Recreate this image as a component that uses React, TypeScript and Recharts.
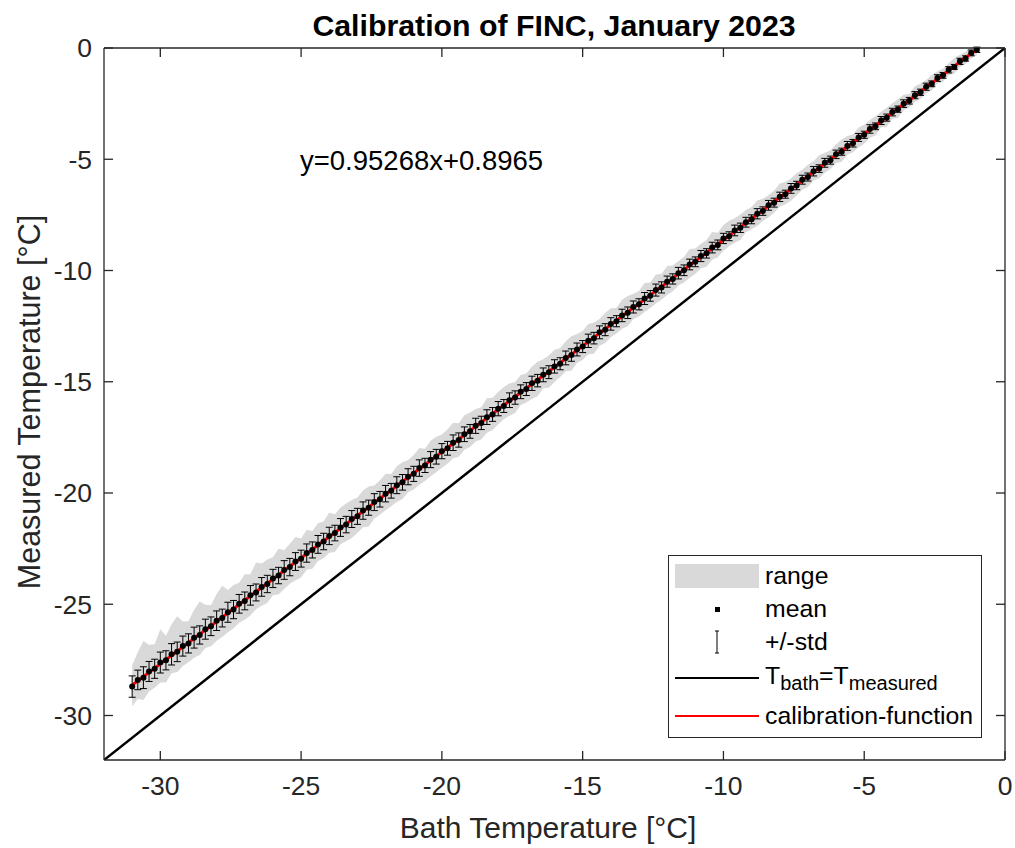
import { ComposedChart, Area, Line, ErrorBar, XAxis, YAxis } from 'recharts'

const FONT = '"Liberation Sans", Arial, sans-serif'
const AXIS = '#262626'

// bath set points, °C
const bathTemps = [
  -31.0, -30.8, -30.6, -30.4, -30.2, -30.0, -29.8, -29.6, -29.4, -29.2,
  -29.0, -28.8, -28.6, -28.4, -28.2, -28.0, -27.8, -27.6, -27.4, -27.2,
  -27.0, -26.8, -26.6, -26.4, -26.2, -26.0, -25.8, -25.6, -25.4, -25.2,
  -25.0, -24.8, -24.6, -24.4, -24.2, -24.0, -23.8, -23.6, -23.4, -23.2,
  -23.0, -22.8, -22.6, -22.4, -22.2, -22.0, -21.8, -21.6, -21.4, -21.2,
  -21.0, -20.8, -20.6, -20.4, -20.2, -20.0, -19.8, -19.6, -19.4, -19.2,
  -19.0, -18.8, -18.6, -18.4, -18.2, -18.0, -17.8, -17.6, -17.4, -17.2,
  -17.0, -16.8, -16.6, -16.4, -16.2, -16.0, -15.8, -15.6, -15.4, -15.2,
  -15.0, -14.8, -14.6, -14.4, -14.2, -14.0, -13.8, -13.6, -13.4, -13.2,
  -13.0, -12.8, -12.6, -12.4, -12.2, -12.0, -11.8, -11.6, -11.4, -11.2,
  -11.0, -10.8, -10.6, -10.4, -10.2, -10.0, -9.8, -9.6, -9.4, -9.2,
  -9.0, -8.8, -8.6, -8.4, -8.2, -8.0, -7.8, -7.6, -7.4, -7.2,
  -7.0, -6.8, -6.6, -6.4, -6.2, -6.0, -5.8, -5.6, -5.4, -5.2,
  -5.0, -4.8, -4.6, -4.4, -4.2, -4.0, -3.8, -3.6, -3.4, -3.2,
  -3.0, -2.8, -2.6, -2.4, -2.2, -2.0, -1.8, -1.6, -1.4, -1.2,
  -1.0,
]

// mean measured temperature per set point, °C
const meanTemps = [
  -28.70, -28.40, -28.30, -28.02, -27.90, -27.62, -27.52, -27.25, -27.14, -26.88,
  -26.76, -26.50, -26.38, -26.12, -25.99, -25.74, -25.62, -25.36, -25.24, -24.98,
  -24.85, -24.60, -24.47, -24.22, -24.09, -23.84, -23.71, -23.46, -23.33, -23.08,
  -22.95, -22.70, -22.56, -22.31, -22.18, -21.93, -21.80, -21.55, -21.42, -21.17,
  -21.05, -20.79, -20.66, -20.41, -20.28, -20.03, -19.90, -19.65, -19.52, -19.27,
  -19.14, -18.88, -18.76, -18.50, -18.37, -18.12, -17.99, -17.74, -17.62, -17.36,
  -17.23, -16.98, -16.85, -16.59, -16.47, -16.21, -16.09, -15.83, -15.71, -15.45,
  -15.33, -15.07, -14.95, -14.69, -14.57, -14.31, -14.19, -13.93, -13.80, -13.55,
  -13.42, -13.16, -13.04, -12.78, -12.66, -12.40, -12.28, -12.02, -11.90, -11.64,
  -11.52, -11.26, -11.14, -10.88, -10.76, -10.50, -10.38, -10.12, -9.99, -9.73,
  -9.61, -9.35, -9.23, -8.97, -8.85, -8.56, -8.46, -8.20, -8.08, -7.83,
  -7.70, -7.45, -7.33, -7.07, -6.95, -6.69, -6.57, -6.31, -6.18, -5.92,
  -5.80, -5.54, -5.42, -5.16, -5.04, -4.78, -4.66, -4.40, -4.28, -4.02,
  -3.90, -3.64, -3.52, -3.26, -3.13, -2.88, -2.75, -2.50, -2.37, -2.12,
  -1.99, -1.74, -1.61, -1.35, -1.23, -0.98, -0.85, -0.60, -0.47, -0.22,
  -0.08,
]

// standard deviation per set point, °C
const stdTemps = [
  0.48, 0.44, 0.49, 0.45, 0.43, 0.47, 0.43, 0.48, 0.44, 0.45,
  0.43, 0.47, 0.41, 0.45, 0.42, 0.44, 0.40, 0.45, 0.41, 0.42,
  0.40, 0.44, 0.38, 0.42, 0.39, 0.41, 0.37, 0.42, 0.39, 0.40,
  0.38, 0.41, 0.36, 0.40, 0.37, 0.39, 0.35, 0.40, 0.37, 0.38,
  0.36, 0.39, 0.34, 0.38, 0.35, 0.37, 0.33, 0.38, 0.35, 0.36,
  0.34, 0.37, 0.32, 0.36, 0.33, 0.34, 0.31, 0.35, 0.32, 0.33,
  0.31, 0.34, 0.30, 0.33, 0.31, 0.32, 0.29, 0.33, 0.30, 0.31,
  0.29, 0.32, 0.28, 0.31, 0.29, 0.30, 0.27, 0.31, 0.28, 0.29,
  0.27, 0.30, 0.26, 0.29, 0.27, 0.28, 0.25, 0.28, 0.26, 0.27,
  0.25, 0.27, 0.24, 0.27, 0.25, 0.25, 0.23, 0.26, 0.24, 0.24,
  0.22, 0.25, 0.21, 0.24, 0.22, 0.23, 0.20, 0.24, 0.21, 0.22,
  0.20, 0.23, 0.19, 0.22, 0.20, 0.21, 0.18, 0.22, 0.19, 0.20,
  0.18, 0.21, 0.17, 0.20, 0.18, 0.19, 0.16, 0.20, 0.17, 0.18,
  0.16, 0.19, 0.15, 0.18, 0.16, 0.17, 0.14, 0.17, 0.15, 0.16,
  0.14, 0.16, 0.13, 0.15, 0.13, 0.14, 0.11, 0.14, 0.12, 0.13,
  0.12,
]

// max - mean per set point, °C
const rangeAbove = [
  0.95, 1.25, 1.65, 1.20, 1.10, 1.50, 1.10, 1.35, 1.60, 1.10,
  1.00, 1.25, 1.50, 1.10, 0.95, 1.20, 1.45, 1.00, 1.10, 0.95,
  1.20, 0.95, 1.35, 1.05, 1.10, 0.95, 1.20, 0.90, 1.05, 1.10,
  0.90, 1.05, 0.85, 0.95, 0.90, 1.05, 0.85, 0.90, 0.95, 0.85,
  0.85, 0.90, 0.95, 0.75, 0.85, 0.90, 0.75, 0.85, 0.90, 0.75,
  0.85, 0.90, 0.75, 0.85, 0.90, 0.75, 0.85, 0.90, 0.75, 0.85,
  0.85, 0.75, 0.70, 0.85, 0.75, 0.75, 0.85, 0.75, 0.70, 0.75,
  0.70, 0.75, 0.85, 0.70, 0.75, 0.75, 0.70, 0.75, 0.85, 0.70,
  0.70, 0.75, 0.70, 0.60, 0.75, 0.70, 0.60, 0.70, 0.75, 0.60,
  0.60, 0.70, 0.60, 0.70, 0.60, 0.70, 0.60, 0.55, 0.60, 0.70,
  0.60, 0.55, 0.60, 0.70, 0.55, 0.60, 0.70, 0.55, 0.60, 0.55,
  0.55, 0.60, 0.55, 0.45, 0.55, 0.60, 0.55, 0.45, 0.55, 0.45,
  0.55, 0.45, 0.60, 0.45, 0.45, 0.45, 0.55, 0.45, 0.40, 0.45,
  0.45, 0.40, 0.45, 0.40, 0.45, 0.40, 0.45, 0.40, 0.30, 0.40,
  0.40, 0.30, 0.40, 0.30, 0.30, 0.30, 0.40, 0.30, 0.30, 0.25,
  0.25,
]

// mean - min per set point, °C
const rangeBelow = [
  0.90, 0.85, 1.00, 0.90, 0.85, 0.90, 1.00, 0.85, 0.90, 0.90,
  0.85, 0.90, 0.90, 0.85, 0.90, 0.90, 0.85, 0.90, 0.85, 0.85,
  0.85, 0.90, 0.75, 0.85, 0.85, 0.75, 0.85, 0.85, 0.75, 0.85,
  0.85, 0.75, 0.85, 0.75, 0.75, 0.75, 0.85, 0.75, 0.75, 0.85,
  0.75, 0.75, 0.85, 0.75, 0.70, 0.75, 0.70, 0.75, 0.75, 0.70,
  0.70, 0.75, 0.70, 0.75, 0.70, 0.75, 0.70, 0.70, 0.75, 0.70,
  0.70, 0.70, 0.75, 0.70, 0.70, 0.70, 0.60, 0.70, 0.70, 0.60,
  0.60, 0.70, 0.70, 0.60, 0.70, 0.70, 0.60, 0.60, 0.70, 0.60,
  0.60, 0.60, 0.70, 0.60, 0.60, 0.60, 0.55, 0.60, 0.60, 0.55,
  0.55, 0.60, 0.55, 0.60, 0.55, 0.60, 0.55, 0.55, 0.55, 0.60,
  0.55, 0.55, 0.60, 0.55, 0.55, 0.55, 0.45, 0.55, 0.55, 0.45,
  0.45, 0.55, 0.45, 0.55, 0.45, 0.45, 0.45, 0.55, 0.45, 0.45,
  0.45, 0.40, 0.45, 0.45, 0.40, 0.40, 0.45, 0.40, 0.40, 0.45,
  0.40, 0.40, 0.40, 0.30, 0.40, 0.30, 0.40, 0.30, 0.30, 0.30,
  0.30, 0.30, 0.30, 0.25, 0.30, 0.25, 0.30, 0.25, 0.25, 0.25,
  0.25,
]

const axisTicks = [-30, -25, -20, -15, -10, -5, 0]

// linear fit of mean vs. bath temperature
const fitSlope = 0.95268
const fitOffset = 0.8965
const fitSpan = [-31, -1]

const rows = bathTemps.map((bath, i) => ({
  bath,
  mean: meanTemps[i],
  std: stdTemps[i],
  range: [meanTemps[i] - rangeBelow[i], meanTemps[i] + rangeAbove[i]],
}))

const identityLine = [{ bath: -32, y: -32 }, { bath: 0, y: 0 }]
const fitLine = fitSpan.map((b) => ({ bath: b, y: fitSlope * b + fitOffset }))

const tickStyle = { fill: AXIS, fontSize: 26.5, fontFamily: FONT }

function Legend() {
  const row = { position: 'absolute' as const, left: 0, width: 314, height: 36, display: 'flex', alignItems: 'center' }
  const icon = { width: 96, display: 'flex', justifyContent: 'center', alignItems: 'center' }
  return (
    <div style={{ position: 'absolute', left: 668, top: 555, width: 314, height: 183, boxSizing: 'border-box',
      border: `1px solid ${AXIS}`, background: '#fff', fontFamily: FONT, fontSize: 24.8, color: '#000' }}>
      <div style={{ ...row, top: 2 }}>
        <div style={icon}><div style={{ width: 84, height: 24, background: '#d9d9d9' }} /></div>
        <span>range</span>
      </div>
      <div style={{ ...row, top: 35 }}>
        <div style={icon}><div style={{ width: 5, height: 5, background: '#000' }} /></div>
        <span>mean</span>
      </div>
      <div style={{ ...row, top: 68 }}>
        <div style={icon}>
          <svg width={8} height={24}>
            <line x1={4} y1={1} x2={4} y2={23} stroke="#000" />
            <line x1={2} y1={1} x2={6} y2={1} stroke="#000" />
            <line x1={2} y1={23} x2={6} y2={23} stroke="#000" />
          </svg>
        </div>
        <span>+/-std</span>
      </div>
      <div style={{ ...row, top: 104 }}>
        <div style={icon}><div style={{ width: 84, height: 2.5, background: '#000' }} /></div>
        <span>T<sub style={{ fontSize: 20 }}>bath</sub>=T<sub style={{ fontSize: 20 }}>measured</sub></span>
      </div>
      <div style={{ ...row, top: 142 }}>
        <div style={icon}><div style={{ width: 84, height: 2.5, background: '#ff0000' }} /></div>
        <span>calibration-function</span>
      </div>
    </div>
  )
}

export default function App() {
  return (
    <div style={{ position: 'absolute', left: 0, top: 0, width: 1015, height: 848, background: '#fff', fontFamily: FONT }}>
      <ComposedChart width={1015} height={848} data={rows} margin={{ top: 48, right: 10, bottom: 38, left: 44 }}>
        <XAxis dataKey="bath" type="number" domain={[-32, 0]} ticks={axisTicks} allowDataOverflow
          height={50} stroke={AXIS} strokeWidth={1.3} tickSize={-9} tickMargin={25} tick={tickStyle} />
        <XAxis xAxisId="top" dataKey="bath" type="number" orientation="top" domain={[-32, 0]} ticks={axisTicks}
          allowDataOverflow height={1} mirror stroke={AXIS} strokeWidth={1.3} tickSize={9} tickFormatter={() => ''} />
        <YAxis type="number" domain={[-32, 0]} ticks={axisTicks} allowDataOverflow width={60}
          stroke={AXIS} strokeWidth={1.3} tickSize={-9} tickMargin={21} tick={tickStyle} />
        <YAxis yAxisId="right" type="number" orientation="right" domain={[-32, 0]} ticks={axisTicks}
          allowDataOverflow width={1} mirror stroke={AXIS} strokeWidth={1.3} tickSize={9} tickFormatter={() => ''} />
        <Area dataKey="range" type="linear" stroke="none" fill="#d9d9d9" fillOpacity={1} isAnimationActive={false} />
        <Line data={identityLine} xAxisId="top" yAxisId="right" dataKey="y" stroke="#000" strokeWidth={2.5}
          dot={false} activeDot={false} isAnimationActive={false} />
        <Line dataKey="mean" stroke="none" dot={{ r: 3, fill: '#000', stroke: 'none' }}
          activeDot={false} isAnimationActive={false}>
          <ErrorBar dataKey="std" direction="y" width={3.5} stroke="#000" strokeWidth={1} />
        </Line>
        <Line data={fitLine} dataKey="y" stroke="#ff0000" strokeWidth={3} dot={false} activeDot={false}
          isAnimationActive={false} />
      </ComposedChart>

      <div style={{ position: 'absolute', left: 104, width: 900, top: 9, textAlign: 'center',
        fontSize: 30.3, fontWeight: 'bold', color: '#000' }}>
        Calibration of FINC, January 2023
      </div>
      <div style={{ position: 'absolute', left: 300, top: 145, fontSize: 27.5, color: '#000' }}>
        y=0.95268x+0.8965
      </div>
      <div style={{ position: 'absolute', left: 98, width: 900, top: 811, textAlign: 'center',
        fontSize: 30, color: AXIS }}>
        Bath Temperature [°C]
      </div>
      <div style={{ position: 'absolute', left: 29, top: 402, width: 0, height: 0 }}>
        <div style={{ position: 'absolute', left: 0, top: 0, transform: 'translate(-50%, -50%) rotate(-90deg)',
          whiteSpace: 'nowrap', fontSize: 30.5, color: AXIS }}>
          Measured Temperature [°C]
        </div>
      </div>
      <Legend />
    </div>
  )
}
